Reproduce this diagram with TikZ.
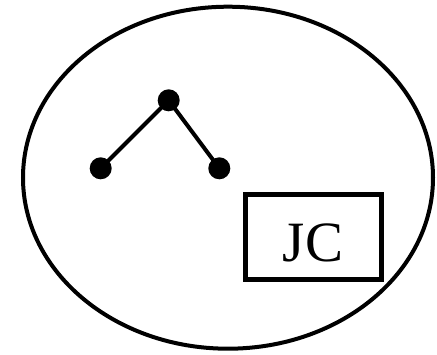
\documentclass[tikz,border=0pt]{standalone}
\usepackage{fontspec}
\setmainfont{Liberation Serif}
\tikzset{
  dot/.style={circle,fill=black,draw=none,minimum size=22pt,inner sep=0pt},
  edge/.style={line width=4pt},
  jcbox/.style={draw,line width=4.7pt,minimum width=136pt,minimum height=85pt,inner sep=0pt},
  outer/.style={draw,ellipse,line width=4pt}
}
\usetikzlibrary{shapes.geometric}
\begin{document}
\begin{tikzpicture}[x=1pt,y=-1pt]
\useasboundingbox (0,0) rectangle (437,354);
\node[outer,minimum width=410pt,minimum height=342pt,inner sep=0pt] (ell) at (228,177.7) {};
\node[dot] (a) at (100.7,168.3) {};
\node[dot] (b) at (168.7,100.3) {};
\node[dot] (c) at (219.3,168.3) {};
\draw[edge] (a.center) -- (b.center) -- (c.center);
\node[jcbox] (box) at (313.7,237.2) {};
\node[anchor=base,inner sep=0pt,font=\fontsize{57}{57}\selectfont] (jc) at (313,261.7) {JC};
\end{tikzpicture}
\end{document}
